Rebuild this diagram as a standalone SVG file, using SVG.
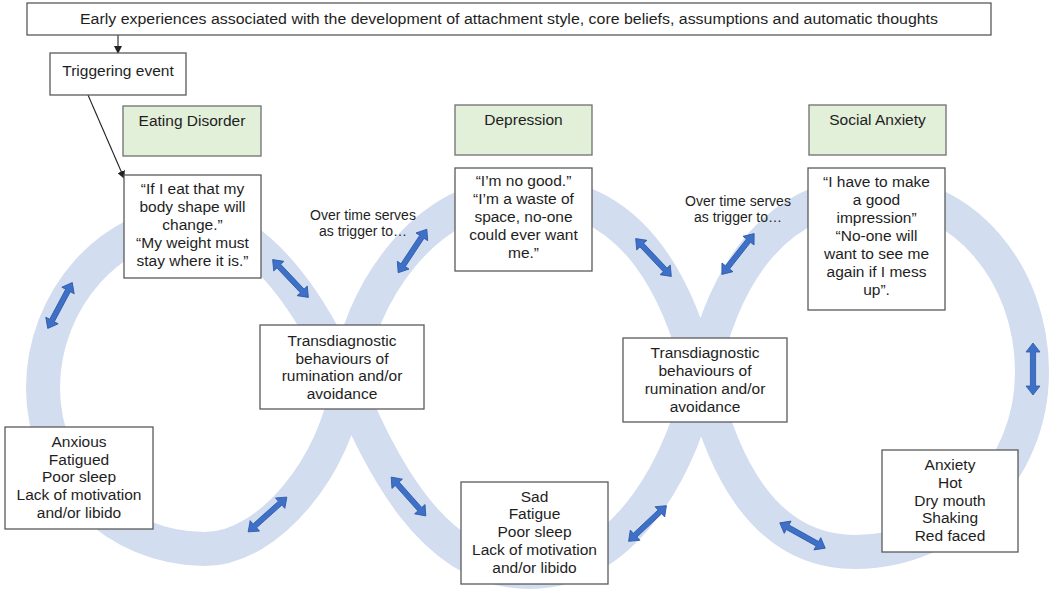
<svg xmlns="http://www.w3.org/2000/svg" xmlns:xlink="http://www.w3.org/1999/xlink" width="1051" height="593" viewBox="0 0 1051 593">
<style>
.box{fill:#ffffff;stroke:#5a5a5a;stroke-width:1.3}
.green{fill:#e2efd9;stroke:#6f6f6f;stroke-width:1.3}
.t{font-family:"Liberation Sans",Arial,sans-serif;font-size:15.5px;fill:#1e1e1e;text-anchor:middle}
.s{font-size:14px}
.band{fill:none;stroke:#d2ddf0;stroke-width:34;stroke-linejoin:round}
.dbl{fill:#3f70c8;stroke:#2c58a6;stroke-width:0.8}
.ln{stroke:#222;stroke-width:1.1;fill:none}
</style>
<defs>
<marker id="ah" markerWidth="8" markerHeight="8" refX="7" refY="4" orient="auto" markerUnits="userSpaceOnUse">
<path d="M0,0 L8,4 L0,8 Z" fill="#222"/>
</marker>
<path id="da" d="M-26,0 L-17,-7 L-17,-2.6 L17,-2.6 L17,-7 L26,0 L17,7 L17,2.6 L-17,2.6 L-17,7 Z"/>
</defs>
<rect width="1051" height="593" fill="#ffffff"/>

<g id="loops">
<path class="band" d="M347,384 C317,315 262,222 192,222 C111,222 43,300 43,388 C43,477 116,549 205,549 C270,549 337,463 347,384 C358,295 425,193 525,193 C640,193 682,300 701,378 C721,458 760,552 855,552 C953,552 1032,472 1032,372 C1032,273 963,193 878,193 C760,193 718,300 701,378 C684,456 630,572 530,572 C430,572 379,458 347,384 Z"/>
</g>

<g id="connectors">
<line class="ln" x1="118" y1="35" x2="118" y2="53" marker-end="url(#ah)"/>
<line class="ln" x1="88" y1="95" x2="124" y2="178" marker-end="url(#ah)"/>
<use href="#da" class="dbl" transform="translate(60,305.5) rotate(-61.9)"/>
<use href="#da" class="dbl" transform="translate(290.5,278.5) rotate(46.6)"/>
<use href="#da" class="dbl" transform="translate(267.5,514.5) rotate(-41.9)"/>
<use href="#da" class="dbl" transform="translate(412.5,251) rotate(-56.6)"/>
<use href="#da" class="dbl" transform="translate(408.5,496.5) rotate(48.3)"/>
<use href="#da" class="dbl" transform="translate(653.5,257.5) rotate(46.7)"/>
<use href="#da" class="dbl" transform="translate(647.5,523.5) rotate(-43.3)"/>
<use href="#da" class="dbl" transform="translate(738,254) rotate(-51.7)"/>
<use href="#da" class="dbl" transform="translate(802.5,535.5) rotate(29.1)"/>
<use href="#da" class="dbl" transform="translate(1033,369) rotate(90)"/>
</g>

<g id="early">
<rect class="box" x="27" y="3" width="964" height="32"/>
<text class="t" x="509" y="24" textLength="858" lengthAdjust="spacingAndGlyphs">Early experiences associated with the development of attachment style, core beliefs, assumptions and automatic thoughts</text>
</g>
<g id="trigger">
<rect class="box" x="50" y="53" width="136" height="42"/>
<text class="t" x="118" y="76">Triggering event</text>
</g>

<g id="ed-title">
<rect class="green" x="123" y="106" width="138" height="50"/>
<text class="t" x="192" y="126">Eating Disorder</text>
</g>
<g id="dep-title">
<rect class="green" x="455" y="105" width="137" height="50"/>
<text class="t" x="523.5" y="125">Depression</text>
</g>
<g id="sa-title">
<rect class="green" x="809" y="105" width="137" height="50"/>
<text class="t" x="877.5" y="125">Social Anxiety</text>
</g>

<g id="ed-beliefs">
<rect class="box" x="124" y="175" width="137" height="103"/>
<text class="t" x="192.5" y="194">“If I eat that my</text>
<text class="t" x="192.5" y="212">body shape will</text>
<text class="t" x="192.5" y="230">change.”</text>
<text class="t" x="192.5" y="248">“My weight must</text>
<text class="t" x="192.5" y="266">stay where it is.”</text>
</g>
<g id="dep-beliefs">
<rect class="box" x="455" y="168" width="137" height="103"/>
<text class="t" x="523.5" y="186">“I’m no good.”</text>
<text class="t" x="523.5" y="204">“I’m a waste of</text>
<text class="t" x="523.5" y="222">space, no-one</text>
<text class="t" x="523.5" y="240">could ever want</text>
<text class="t" x="523.5" y="258">me.”</text>
</g>
<g id="sa-beliefs">
<rect class="box" x="808" y="168" width="137" height="142"/>
<text class="t" x="876.5" y="187">“I have to make</text>
<text class="t" x="876.5" y="205">a good</text>
<text class="t" x="876.5" y="223">impression”</text>
<text class="t" x="876.5" y="241">“No-one will</text>
<text class="t" x="876.5" y="259">want to see me</text>
<text class="t" x="876.5" y="277">again if I mess</text>
<text class="t" x="876.5" y="295">up”.</text>
</g>

<g id="trigger-note-1">
<text class="t s" x="363" y="220">Over time serves</text>
<text class="t s" x="363" y="236">as trigger to…</text>
</g>
<g id="trigger-note-2">
<text class="t s" x="738" y="206">Over time serves</text>
<text class="t s" x="738" y="222">as trigger to…</text>
</g>

<g id="trans-1">
<rect class="box" x="260" y="325" width="164" height="84"/>
<text class="t" x="342" y="346">Transdiagnostic</text>
<text class="t" x="342" y="364">behaviours of</text>
<text class="t" x="342" y="381">rumination and/or</text>
<text class="t" x="342" y="399">avoidance</text>
</g>
<g id="trans-2">
<rect class="box" x="623" y="338" width="164" height="84"/>
<text class="t" x="705" y="358">Transdiagnostic</text>
<text class="t" x="705" y="376">behaviours of</text>
<text class="t" x="705" y="394">rumination and/or</text>
<text class="t" x="705" y="412">avoidance</text>
</g>

<g id="ed-symptoms">
<rect class="box" x="5" y="427" width="148" height="102"/>
<text class="t" x="79" y="447">Anxious</text>
<text class="t" x="79" y="465">Fatigued</text>
<text class="t" x="79" y="482">Poor sleep</text>
<text class="t" x="79" y="500">Lack of motivation</text>
<text class="t" x="79" y="518">and/or libido</text>
</g>
<g id="dep-symptoms">
<rect class="box" x="461" y="482" width="147" height="102"/>
<text class="t" x="534.5" y="502">Sad</text>
<text class="t" x="534.5" y="519">Fatigue</text>
<text class="t" x="534.5" y="537">Poor sleep</text>
<text class="t" x="534.5" y="555">Lack of motivation</text>
<text class="t" x="534.5" y="573">and/or libido</text>
</g>
<g id="sa-symptoms">
<rect class="box" x="882" y="450" width="136" height="102"/>
<text class="t" x="950" y="470">Anxiety</text>
<text class="t" x="950" y="488">Hot</text>
<text class="t" x="950" y="506">Dry mouth</text>
<text class="t" x="950" y="523">Shaking</text>
<text class="t" x="950" y="541">Red faced</text>
</g>
</svg>
